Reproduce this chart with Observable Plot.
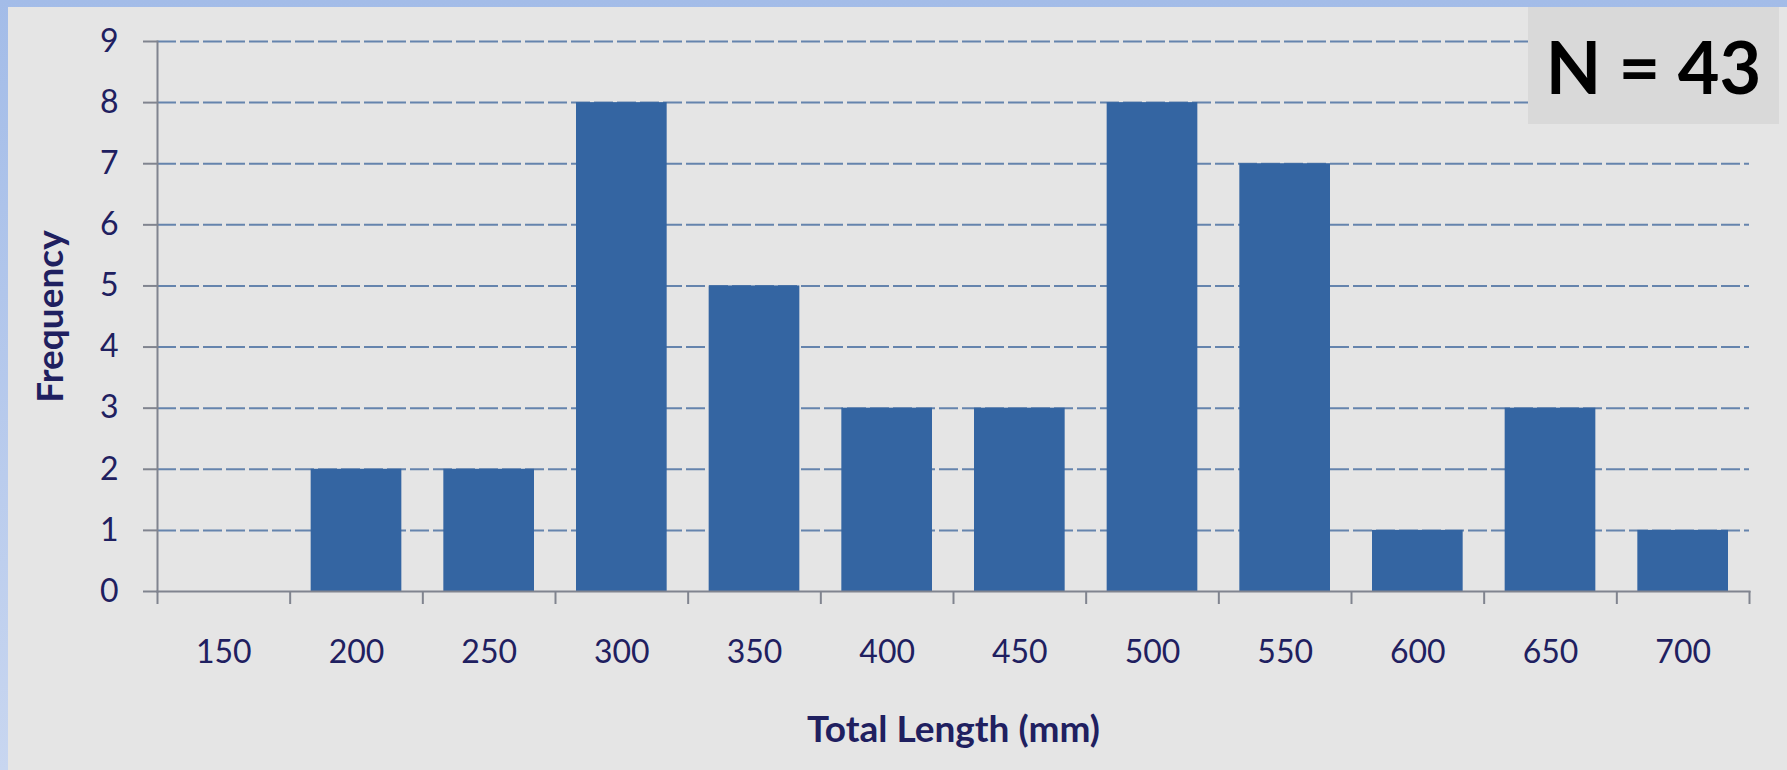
<!DOCTYPE html>
<html>
<head>
<meta charset="utf-8">
<script src="https://cdn.jsdelivr.net/npm/d3@7"></script>
<script src="https://cdn.jsdelivr.net/npm/@observablehq/plot@0.6"></script>
<style>
  html, body { margin: 0; padding: 0; }
  body { width: 1787px; height: 770px; overflow: hidden; }
  #wrap {
    position: relative;
    width: 1779px; height: 763px;
    padding: 7px 0 0 8px;
    background: linear-gradient(#a3bce8, #c8d6f0);
  }
  #chart { width: 1779px; height: 763px; background: #e5e5e5; }
  #chart svg { display: block; background: #e5e5e5; }
  #nbox {
    position: absolute; left: 1528px; top: 7px; width: 251px; height: 117px;
    background: #d9d9d9; color: #000;
    font-family: Lato, "Open Sans", sans-serif; font-weight: bold; font-size: 72px;
    display: flex; align-items: center; justify-content: center;
    letter-spacing: 0px;
  }
</style>
</head>
<body>
<div id="wrap">
  <div id="chart"></div>
  <div id="nbox">N = 43</div>
</div>
<script>
// Data
const lengths = [150, 200, 250, 300, 350, 400, 450, 500, 550, 600, 650, 700];
const counts  = [0, 2, 2, 8, 5, 3, 3, 8, 7, 1, 3, 1];
const yTicks  = [0, 1, 2, 3, 4, 5, 6, 7, 8, 9];
const xLabel  = "Total Length (mm)";
const yLabel  = "Frequency";
const binWidth = 50;

const rows = lengths.map((l, i) => ({ length: l, lo: l - binWidth / 2, hi: l + binWidth / 2, count: counts[i] }));
const edges = [lengths[0] - binWidth / 2, ...lengths.map(l => l + binWidth / 2)];
const gridTicks = yTicks.filter(t => t > 0);

const textColor = "#1f2060";
const axisColor = "#80848f";
const gridColor = "#6584ad";
const barColor = "#3465a2";

const chart = Plot.plot({
  width: 1779,
  height: 763,
  marginLeft: 149,
  marginRight: 38,
  marginTop: 34,
  marginBottom: 179,
  style: { background: "#e5e5e5", fontFamily: "Lato, 'Open Sans', sans-serif", color: textColor },
  x: { type: "linear", domain: [edges[0], edges[edges.length - 1]] },
  y: { domain: [0, 9] },
  marks: [
    Plot.ruleY(gridTicks, { stroke: gridColor, strokeWidth: 2, strokeDasharray: "19,4" }),
    Plot.rectY(rows, { x1: "lo", x2: "hi", y: "count", fill: barColor, insetLeft: 21, insetRight: 21 }),
    Plot.axisY({ ticks: yTicks, tickSize: 14, tickPadding: 25, stroke: axisColor, strokeWidth: 2, fontSize: 32, fill: textColor, label: null }),
    Plot.axisX({ ticks: edges, tickSize: 13, stroke: axisColor, strokeWidth: 2, tickFormat: () => "", label: null }),
    Plot.axisX({ ticks: lengths, tickSize: 0, tickPadding: 49, fontSize: 32, fill: textColor, tickFormat: d => String(d), label: null }),
    Plot.frame({ anchor: "left", stroke: axisColor, strokeWidth: 2 }),
    Plot.frame({ anchor: "bottom", stroke: axisColor, strokeWidth: 2 }),
    Plot.text([xLabel], { frameAnchor: "bottom", textAnchor: "middle", lineAnchor: "middle", dy: 139, fontSize: 37, fontWeight: "bold", fill: textColor }),
    Plot.text([yLabel], { frameAnchor: "left", textAnchor: "middle", lineAnchor: "middle", dx: -106, rotate: -90, fontSize: 37, fontWeight: "bold", fill: textColor })
  ]
});
document.getElementById("chart").appendChild(chart);
</script>
</body>
</html>
